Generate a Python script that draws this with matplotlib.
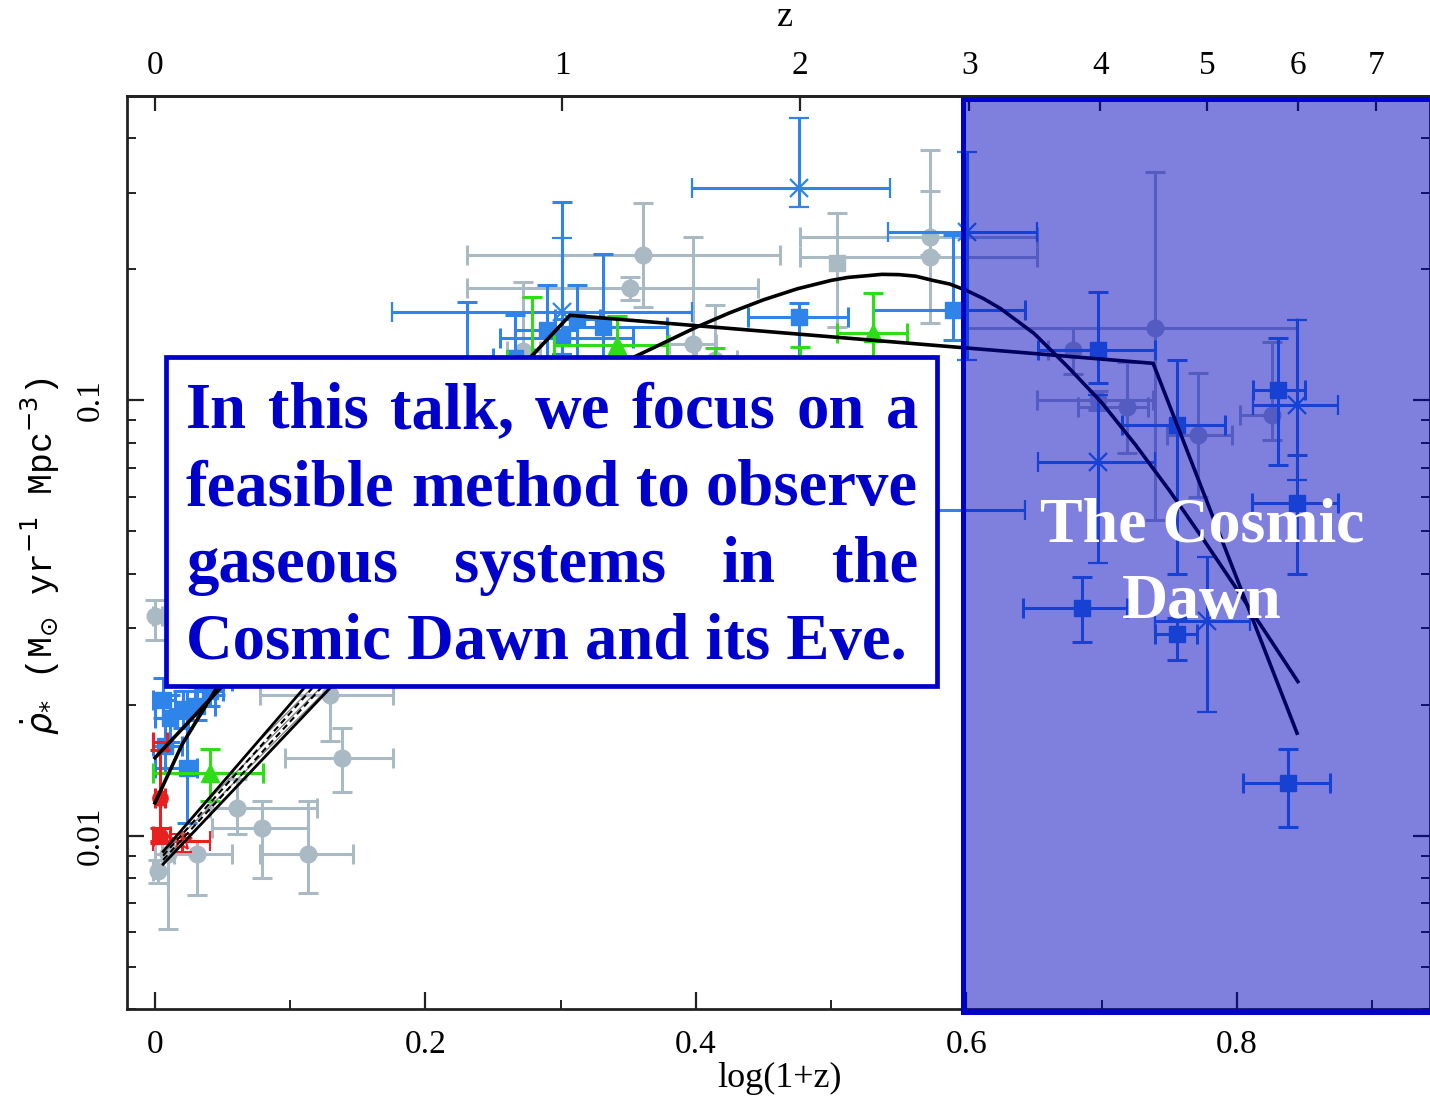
import numpy as np
import matplotlib
matplotlib.use("Agg")
import matplotlib.pyplot as plt
from matplotlib.patches import Rectangle
from matplotlib.ticker import FixedLocator, MultipleLocator, LogLocator, NullFormatter, NullLocator

# ---------------- data : x = log10(1+z), y = star formation rate density ----------------
# blue squares  (value, lower bound, upper bound)
bsq_x   = [0.4762, 0.5900, 0.3312, 0.2898, 0.3009, 0.6972, 0.6854, 0.7556, 0.7556, 0.8303, 0.8444, 0.8377,
           0.0074, 0.0111, 0.0207, 0.0311, 0.0407, 0.0444, 0.0237, 0.0059, 0.3120, 0.2307, 0.2662]
bsq_xlo = [0.4384, 0.5309, 0.3009, 0.2662, 0.2551, 0.6529, 0.6418, 0.7394, 0.7150, 0.8118, 0.8111, 0.8044,
           -0.0015, 0.0000, 0.0111, 0.0207, 0.0296, 0.0333, 0.0000, -0.0015, 0.2960, 0.2100, 0.2500]
bsq_xhi = [0.5124, 0.6433, 0.3786, 0.3120, 0.3534, 0.7394, 0.7187, 0.7704, 0.7911, 0.8503, 0.8747, 0.8688,
           0.0200, 0.0244, 0.0311, 0.0444, 0.0503, 0.0569, 0.0311, 0.0150, 0.3290, 0.2500, 0.2800]
bsq_y   = [0.1551, 0.1610, 0.1471, 0.1448, 0.1388, 0.1303, 0.0334, 0.0291, 0.0876, 0.1054, 0.0580, 0.0132,
           0.0161, 0.0186, 0.0195, 0.0199, 0.0215, 0.0227, 0.0143, 0.0205, 0.1540, 0.1180, 0.1250]
bsq_ylo = [0.1150, 0.1374, 0.1180, 0.1200, 0.1100, 0.1096, 0.0278, 0.0253, 0.0400, 0.0709, 0.0400, 0.0105,
           0.0139, 0.0164, 0.0177, 0.0184, 0.0199, 0.0210, 0.0107, 0.0186, 0.1250, 0.1000, 0.1050]
bsq_yhi = [0.1671, 0.2394, 0.2166, 0.1837, 0.2850, 0.1771, 0.0392, 0.0317, 0.1236, 0.1388, 0.0750, 0.0158,
           0.0186, 0.0210, 0.0215, 0.0220, 0.0235, 0.0250, 0.0215, 0.0230, 0.1837, 0.1680, 0.1568]

# blue crosses
bx_x   = [0.4762, 0.6004, 0.6972, 0.7778, 0.8444, 0.3009, 0.5500]
bx_xlo = [0.3970, 0.5420, 0.6529, 0.7394, 0.8118, 0.1752, 0.4600]
bx_xhi = [0.5434, 0.6521, 0.7394, 0.8096, 0.8747, 0.3970, 0.6433]
bx_y   = [0.3070, 0.2433, 0.0720, 0.0312, 0.0974, 0.1593, 0.0559]
bx_ylo = [0.2778, 0.1236, 0.0422, 0.0192, 0.0655, 0.1280, 0.0480]
bx_yhi = [0.4450, 0.3716, 0.1027, 0.0436, 0.1526, 0.2357, 0.0650]

# grey circles
g_x   = [0.3608, 0.3512, 0.5730, 0.5730, 0.7394, 0.6787, 0.7187, 0.6972, 0.7712, 0.8259, 0.1294, 0.1383,
         0.0606, 0.0791, 0.1131, 0.0311, 0.0022, 0.0096, 0.0000, 0.3978, 0.4140, 0.2721]
g_xlo = [0.2307, 0.2307, 0.4769, 0.4769, 0.6004, 0.6600, 0.6824, 0.6521, 0.7482, 0.8022, 0.0776, 0.0961,
         0.0407, 0.0421, 0.0776, 0.0000, -0.0015, 0.0050, -0.0015, 0.3800, 0.4000, 0.2600]
g_xhi = [0.4621, 0.4458, 0.6521, 0.6521, 0.8444, 0.6972, 0.7342, 0.7379, 0.7963, 0.8303, 0.1760, 0.1760,
         0.1198, 0.1131, 0.1464, 0.0569, 0.0096, 0.0140, 0.0050, 0.4150, 0.4300, 0.2850]
g_y   = [0.2154, 0.1809, 0.2369, 0.2132, 0.1463, 0.1303, 0.0964, 0.1000, 0.0831, 0.0924, 0.0210, 0.0151,
         0.0116, 0.0104, 0.0091, 0.0091, 0.0083, 0.0091, 0.0320, 0.1350, 0.1240, 0.1300]
g_ylo = [0.1636, 0.1698, 0.2154, 0.1503, 0.0530, 0.1150, 0.0755, 0.0950, 0.0600, 0.0809, 0.0165, 0.0126,
         0.0101, 0.0080, 0.0074, 0.0073, 0.0078, 0.0061, 0.0281, 0.1000, 0.1000, 0.1100]
g_yhi = [0.2837, 0.1917, 0.3756, 0.3020, 0.3340, 0.1463, 0.1223, 0.1050, 0.1153, 0.1359, 0.0300, 0.0177,
         0.0135, 0.0120, 0.0120, 0.0097, 0.0088, 0.0097, 0.0347, 0.2369, 0.1653, 0.1867]

# grey square
gs_x, gs_y, gs_ylo, gs_yhi = [0.5043], [0.2064], [0.1471], [0.2691]

# green triangles
t_x   = [0.3416, 0.5309, 0.4140, 0.4769, 0.2787, 0.0407]
t_xlo = [0.2950, 0.5043, 0.3950, 0.4550, 0.2600, -0.0015]
t_xhi = [0.3786, 0.5560, 0.4350, 0.4950, 0.2950, 0.0799]
t_y   = [0.1338, 0.1426, 0.1150, 0.1170, 0.1236, 0.0139]
t_ylo = [0.1150, 0.1250, 0.1000, 0.1000, 0.1000, 0.0120]
t_yhi = [0.1560, 0.1762, 0.1317, 0.1324, 0.1725, 0.0158]

# red points
r_x   = [0.0037, 0.0037]
r_xlo = [0.0000, -0.0015]
r_xhi = [0.0074, 0.0111]
r_y   = [0.0122, 0.0100]
r_ylo = [0.0097, 0.0096]
r_yhi = [0.0157, 0.0104]
rs_x, rs_xlo, rs_xhi = [0.0200], [-0.0015], [0.0407]
rs_y, rs_ylo, rs_yhi = [0.0097], [0.0092], [0.0101]
rb_x, rb_xlo, rb_xhi, rb_y = [0.0037], [-0.0015], [0.0089], [0.0164]

# fits
pw_x = [0.0, 0.3068, 0.7380, 0.8444]
pw_y = [0.0151, 0.1568, 0.1216, 0.0172]
cf_x = [0.0, 0.02, 0.05, 0.10, 0.15, 0.20, 0.25, 0.30, 0.35, 0.40, 0.425, 0.45, 0.475, 0.50, 0.5125,
        0.525, 0.5375, 0.55, 0.5625, 0.575, 0.5875, 0.60, 0.6125, 0.625, 0.65, 0.675, 0.70, 0.725,
        0.75, 0.775, 0.80, 0.825, 0.845]
cf_y = [0.0119, 0.0162, 0.0230, 0.0355, 0.0494, 0.0651, 0.0827, 0.1023, 0.1239, 0.1471, 0.1589, 0.1702,
        0.1804, 0.1886, 0.1916, 0.1931, 0.1947, 0.1944, 0.1928, 0.1886, 0.1850, 0.1788, 0.1713, 0.1626,
        0.1424, 0.1193, 0.0988, 0.0790, 0.0621, 0.0480, 0.0368, 0.0281, 0.0226]
band_x = [0.006, 0.16]
band_y1 = [0.0092, 0.0330]
band_y2 = [0.0090, 0.0310]
band_y3 = [0.0088, 0.0292]
band_y4 = [0.0086, 0.0275]

xmaj = [0, 0.2, 0.4, 0.6, 0.8]
xmaj_lab = ["0", "0.2", "0.4", "0.6", "0.8"]
z_ticks = [0, 1, 2, 3, 4, 5, 6, 7]
y_ticks = [0.01, 0.1]
y_lab = ["0.01", "0.1"]

box_lines = [["In", "this", "talk,", "we", "focus", "on", "a"],
             ["feasible", "method", "to", "observe"],
             ["gaseous", "systems", "in", "the"]]
box_last = "Cosmic Dawn and its Eve."
dawn_lines = ["The Cosmic", "Dawn"]

# ---------------- styling ----------------
BLUE = "#2E84E8"
GREY = "#AABAC4"
GREEN = "#2EDD18"
RED = "#E82020"
TXTBLUE = "#0000CC"
W, H = 1430, 1098

fig = plt.figure(figsize=(W / 100, H / 100), dpi=100)
ax = fig.add_axes([127 / W, 1 - 1009 / H, 1 - 127 / W, (1009 - 96) / H])
ax.set_xlim(-0.0207, 0.9427)
ax.set_yscale("log")
ax.set_ylim(0.004, 0.5)


def eb(x, y, xlo, xhi, ylo, yhi, **kw):
    x = np.asarray(x, float); y = np.asarray(y, float)
    xerr = None
    if xlo is not None:
        xerr = [x - np.asarray(xlo), np.asarray(xhi) - x]
    yerr = None
    if ylo is not None:
        yerr = [y - np.asarray(ylo), np.asarray(yhi) - y]
    ax.errorbar(x, y, xerr=xerr, yerr=yerr, linestyle="none", elinewidth=2.2,
                capsize=7, capthick=2.2, **kw)


eb(g_x, g_y, g_xlo, g_xhi, g_ylo, g_yhi, marker="o", ms=12, color=GREY, zorder=2)
eb(gs_x, gs_y, None, None, gs_ylo, gs_yhi, marker="s", ms=12, color=GREY, zorder=2)
eb(bsq_x, bsq_y, bsq_xlo, bsq_xhi, bsq_ylo, bsq_yhi, marker="s", ms=11, color=BLUE, zorder=3)
eb(bx_x, bx_y, bx_xlo, bx_xhi, bx_ylo, bx_yhi, marker="x", ms=13, mew=1.6, color=BLUE, zorder=3)
eb(t_x, t_y, t_xlo, t_xhi, t_ylo, t_yhi, marker="^", ms=13, color=GREEN, zorder=3.5)
eb(r_x, r_y, r_xlo, r_xhi, r_ylo, r_yhi, marker="o", ms=11, color=RED, zorder=3.6)
eb(rs_x, rs_y, rs_xlo, rs_xhi, rs_ylo, rs_yhi, marker="*", ms=15, mfc="none", mew=1.5, color=RED, zorder=3.6)
eb(rb_x, rb_y, rb_xlo, rb_xhi, None, None, marker="none", color=RED, zorder=3.6)

ax.fill_between(band_x, band_y4, band_y1, facecolor="none", edgecolor="#888888", hatch="////",
                linewidth=0, zorder=3.8)
ax.plot(band_x, band_y1, color="black", lw=2.0, zorder=4)
ax.plot(band_x, band_y4, color="black", lw=2.0, zorder=4)
ax.plot(band_x, band_y2, color="black", lw=1.5, ls=(0, (3, 2)), zorder=4)
ax.plot(band_x, band_y3, color="black", lw=1.5, ls=(0, (3, 2)), zorder=4)
ax.plot(pw_x, pw_y, color="black", lw=2.6, zorder=4.2, solid_joinstyle="miter")
ax.plot(cf_x, cf_y, color="black", lw=2.6, zorder=4.2, solid_joinstyle="round")

# ---------------- axes / ticks ----------------
for s in ax.spines.values():
    s.set_linewidth(2.0)
    s.set_color("#222222")

tickfont = dict(family="Liberation Serif", size=24)
ax.xaxis.set_major_locator(FixedLocator(xmaj))
ax.set_xticklabels(xmaj_lab, **tickfont)
ax.xaxis.set_minor_locator(MultipleLocator(0.1))
ax.set_yticks(y_ticks)
ax.set_yticklabels(y_lab, rotation=90, va="center", **tickfont)
ax.yaxis.set_minor_locator(LogLocator(base=10, subs=np.arange(2, 10)))
ax.yaxis.set_minor_formatter(NullFormatter())
ax.tick_params(axis="both", which="major", direction="in", length=12.5, width=1.6, color="#222222")
ax.tick_params(axis="both", which="minor", direction="in", length=6.5, width=1.4, color="#222222")
ax.tick_params(axis="x", which="both", bottom=True, top=False, pad=15)
ax.tick_params(axis="y", which="both", left=True, right=True, pad=15)

sec = ax.secondary_xaxis("top", functions=(lambda v: 10 ** np.asarray(v) - 1,
                                            lambda zz: np.log10(1 + np.clip(np.asarray(zz, float), -0.99, None))))
sec.set_xticks(z_ticks)
sec.set_xticklabels([str(v) for v in z_ticks], **tickfont)
sec.xaxis.set_minor_locator(NullLocator())
sec.tick_params(axis="x", direction="in", length=11, width=1.6, pad=11, color="#222222")
sec.spines["top"].set_linewidth(2.0)
sec.spines["top"].set_color("#222222")

fig.text(780 / W, 1 - 1078 / H, "log(1+z)", ha="center", va="center", family="Liberation Serif", size=26)
fig.text(785 / W, 1 - 17 / H, "z", ha="center", va="center", family="Liberation Serif", size=26)
fig.text(40 / W, 1 - 556 / H, r"$\dot{\rho}_{*}$ (M$_{\odot}$ yr$^{-1}$ Mpc$^{-3}$)", rotation=90,
         ha="center", va="center", family="Liberation Mono", size=25)

# ---------------- overlays ----------------
fig.add_artist(Rectangle((963 / W, 1 - 1012 / H), (1445 - 963) / W, (1012 - 99) / H,
                         transform=fig.transFigure, facecolor=(0, 0, 0.75, 0.5),
                         edgecolor=TXTBLUE, linewidth=3.6, zorder=5))
fig.add_artist(Rectangle((165.5 / W, 1 - 685.5 / H), (937.5 - 165.5) / W, (685.5 - 357.5) / H,
                         transform=fig.transFigure, facecolor="white",
                         edgecolor=TXTBLUE, linewidth=3.4, zorder=6))

fig.canvas.draw()
rend = fig.canvas.get_renderer()
bfont = dict(family="Liberation Serif", weight="bold", size=46.5, color=TXTBLUE)


def width_px(s, **kw):
    t = fig.text(0, 0, s, **kw)
    w = t.get_window_extent(renderer=rend).width
    t.remove()
    return w


left_px, right_px = 186, 918
baselines = [428, 505, 582, 659]
for line, base in zip(box_lines, baselines):
    ws = [width_px(w, **bfont) for w in line]
    gap = (right_px - left_px - sum(ws)) / (len(line) - 1)
    xpos = left_px
    for w, wd in zip(line, ws):
        fig.text(xpos / W, 1 - base / H, w, ha="left", va="baseline", zorder=7, **bfont)
        xpos += wd + gap
fig.text(left_px / W, 1 - baselines[3] / H, box_last, ha="left", va="baseline", zorder=7, **bfont)

wfont = dict(family="Liberation Serif", weight="bold", size=46, color="white")
fig.text(1202 / W, 1 - 542 / H, dawn_lines[0], ha="center", va="baseline", zorder=7, **wfont)
fig.text(1202 / W, 1 - 618 / H, dawn_lines[1], ha="center", va="baseline", zorder=7, **wfont)

fig.savefig("out.png", dpi=100)
